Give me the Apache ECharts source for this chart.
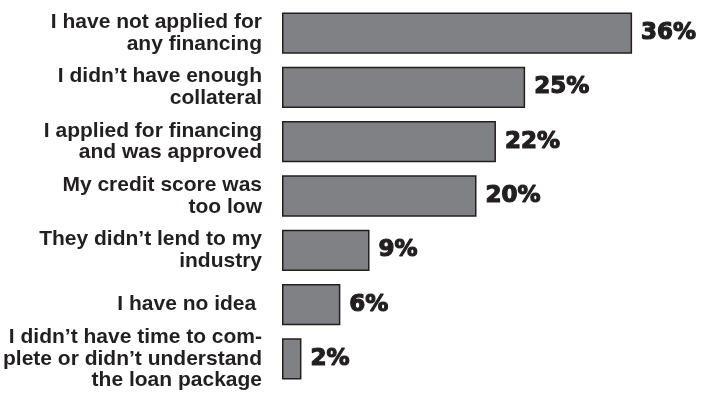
<!DOCTYPE html>
<html>
<head>
<meta charset="utf-8">
<script src="https://cdn.jsdelivr.net/npm/echarts@6/dist/echarts.min.js"></script>
<style>
  html, body { margin: 0; padding: 0; background: #ffffff; }
  #chart { width: 701px; height: 406px; }
</style>
</head>
<body>
<div id="chart"></div>
<script>
// Reasons given for financing outcomes (share of respondents, %)
const categories = [
  'I have not applied for\nany financing',
  'I didn\u2019t have enough\ncollateral',
  'I applied for financing\nand was approved',
  'My credit score was\ntoo low',
  'They didn\u2019t lend to my\nindustry',
  'I have no idea ',
  'I didn\u2019t have time to com-\nplete or didn\u2019t understand\nthe loan package'
];
const shares = [36, 25, 22, 20, 9, 6, 2];

const ink = '#231f20';

const chart = echarts.init(document.getElementById('chart'), null, { renderer: 'canvas' });

chart.setOption({
  backgroundColor: '#ffffff',
  animation: false,
  grid: { left: 281, right: 30, top: 6, bottom: 20, containLabel: false },
  xAxis: {
    type: 'value',
    min: 0,
    max: 40,
    show: false
  },
  yAxis: {
    type: 'category',
    inverse: true,
    data: categories.map((name, i) => i === categories.length - 1
      ? { value: name, textStyle: { padding: [16, 0, 0, 0] } }
      : name),
    axisLine: { show: false },
    axisTick: { show: false },
    splitLine: { show: false },
    axisLabel: {
      margin: 20,
      color: ink,
      fontFamily: '"Liberation Sans", Arial, sans-serif',
      fontWeight: 'bold',
      fontSize: 21,
      lineHeight: 21.5,
      align: 'right'
    }
  },
  series: [{
    type: 'bar',
    data: shares,
    barCategoryGap: '24%',
    itemStyle: {
      color: '#808184',
      borderColor: ink,
      borderWidth: 1.5
    },
    label: {
      show: true,
      position: 'right',
      distance: 9,
      formatter: '{c}%',
      color: ink,
      fontFamily: '"DejaVu Sans", sans-serif',
      fontWeight: 'bold',
      fontSize: 23,
      textBorderColor: ink,
      textBorderWidth: 1.2
    }
  }]
});
</script>
</body>
</html>
